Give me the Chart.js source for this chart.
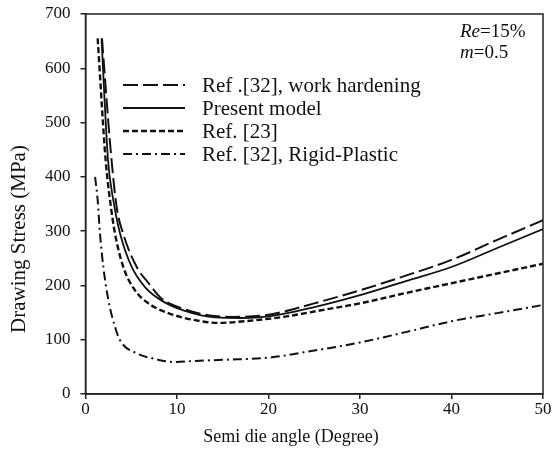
<!DOCTYPE html>
<html>
<head>
<meta charset="utf-8">
<script src="https://cdn.jsdelivr.net/npm/chart.js@4.4.1/dist/chart.umd.min.js"></script>
<style>
  html, body { margin: 0; padding: 0; background: #fff; }
  #wrap { width: 556px; height: 457px; position: relative; }
</style>
</head>
<body>
<div id="wrap"><canvas id="c"></canvas></div>
<script>
// Semi die angle (degree) and drawing stress (MPa) for each curve
const hardX   = [1.8, 2.75, 3.4, 4.1, 5.6, 6.9, 8.3, 10.5, 13.4, 16, 20, 25, 30, 35, 40, 45, 50];
const hardY   = [655, 449, 345, 296, 234, 204, 176, 158, 145, 142, 146, 167, 191, 218, 247, 284, 320];

const modelX  = [1.75, 2.46, 3.04, 3.77, 5.05, 6.5, 8.33, 10.87, 14.15, 17, 20, 25, 30, 35, 40, 45, 50];
const modelY  = [655, 431, 357, 296, 234, 197, 172, 153, 141, 140, 143, 160, 182, 208, 234, 269, 304];

const ref23X  = [1.33, 2.2, 2.68, 3.22, 4.13, 5.41, 6.87, 9.05, 11.97, 14.5, 18, 22, 26, 30, 35, 40, 45, 50];
const ref23Y  = [655, 431, 357, 296, 234, 191, 167, 149, 136, 131, 135, 143, 155, 167, 186, 204, 222, 240];

const rigidX  = [1.05, 1.33, 1.58, 1.95, 2.5, 3.22, 3.77, 5.6, 7.5, 9.6, 12, 15, 20, 25, 30, 35, 40, 45, 50];
const rigidY  = [400, 357, 296, 234, 173, 124, 99, 75, 65, 59, 61, 63, 67, 80, 95, 114, 134, 149, 164];

const seriesNames = [
  'Ref .[32], work hardening',
  'Present model',
  'Ref. [23]',
  'Ref. [32], Rigid-Plastic'
];

const xTicks = [0, 10, 20, 30, 40, 50];
const yTicks = [0, 100, 200, 300, 400, 500, 600, 700];
const xTitle = 'Semi die angle (Degree)';
const yTitle = 'Drawing Stress (MPa)';

const FONT = "'Liberation Serif', 'Times New Roman', serif";
const INK = '#111';

const pts = (xs, ys) => xs.map((x, i) => ({ x, y: ys[i] }));

function line(label, xs, ys, width, dash) {
  return {
    label,
    data: pts(xs, ys),
    showLine: true,
    borderColor: INK,
    backgroundColor: INK,
    borderWidth: width,
    borderDash: dash,
    pointRadius: 0,
    pointHoverRadius: 0,
    cubicInterpolationMode: 'monotone',
    fill: false
  };
}

// Frame, axis titles, custom line-style legend and parameter note
const decorations = {
  id: 'decorations',
  afterDraw(chart) {
    const { ctx, chartArea: a } = chart;
    ctx.save();
    ctx.strokeStyle = '#222';
    ctx.lineWidth = 1.5;
    ctx.strokeRect(a.left, a.top, a.right - a.left, a.bottom - a.top);

    ctx.fillStyle = INK;
    // axis titles
    ctx.textAlign = 'center';
    ctx.textBaseline = 'middle';
    ctx.font = `18px ${FONT}`;
    ctx.fillText(xTitle, 291, 437);
    ctx.save();
    ctx.translate(19, 239);
    ctx.rotate(-Math.PI / 2);
    ctx.font = `21px ${FONT}`;
    ctx.fillText(yTitle, 0, 0);
    ctx.restore();

    // legend
    ctx.textAlign = 'left';
    const rows = [85, 108, 131, 154];
    ctx.font = `21px ${FONT}`;
    chart.data.datasets.forEach((ds, i) => {
      const y = rows[i];
      ctx.beginPath();
      ctx.strokeStyle = ds.borderColor;
      ctx.lineWidth = ds.borderWidth;
      ctx.setLineDash(ds.borderDash || []);
      ctx.moveTo(123, y);
      ctx.lineTo(185, y);
      ctx.stroke();
      ctx.setLineDash([]);
      ctx.fillText(ds.label, 202, y + 1);
    });

    // parameters
    const drawMixed = (parts, x, y) => {
      let cx = x;
      parts.forEach(([t, italic]) => {
        ctx.font = `${italic ? 'italic ' : ''}19px ${FONT}`;
        ctx.fillText(t, cx, y);
        cx += ctx.measureText(t).width;
      });
    };
    drawMixed([['Re', true], ['=15%', false]], 460, 32);
    drawMixed([['m', true], ['=0.5', false]], 460, 53);
    ctx.restore();
  }
};

new Chart(document.getElementById('c'), {
  type: 'scatter',
  data: {
    datasets: [
      line(seriesNames[0], hardX, hardY, 2, [15, 5]),
      line(seriesNames[1], modelX, modelY, 1.8, []),
      line(seriesNames[2], ref23X, ref23Y, 2.4, [6, 3]),
      line(seriesNames[3], rigidX, rigidY, 2, [9, 4, 2, 4])
    ]
  },
  options: {
    responsive: true,
    maintainAspectRatio: false,
    animation: false,
    events: [],
    layout: { padding: { left: 0, right: 13, top: 14, bottom: 0 } },
    plugins: {
      legend: { display: false },
      tooltip: { enabled: false }
    },
    scales: {
      x: {
        type: 'linear',
        min: 0,
        max: 50,
        afterBuildTicks: s => { s.ticks = xTicks.map(v => ({ value: v })); },
        afterFit: s => { s.height = 63; s.paddingLeft = 0; s.paddingRight = 0; },
        ticks: { color: INK, font: { family: FONT, size: 17 }, padding: 0 },
        grid: { display: true, drawOnChartArea: false, drawTicks: true, tickLength: 5, color: '#222', lineWidth: 1.5 },
        border: { display: true, color: '#222', width: 1.5 },
        title: { display: false }
      },
      y: {
        type: 'linear',
        min: 0,
        max: 700,
        afterBuildTicks: s => { s.ticks = yTicks.map(v => ({ value: v })); },
        afterFit: s => { s.width = 85.5; s.paddingTop = 0; s.paddingBottom = 0; },
        ticks: { color: INK, font: { family: FONT, size: 17 }, padding: 10 },
        grid: { display: true, drawOnChartArea: false, drawTicks: true, tickLength: 5, color: '#222', lineWidth: 1.5 },
        border: { display: true, color: '#222', width: 1.5 },
        title: { display: false }
      }
    }
  },
  plugins: [decorations]
});
</script>
</body>
</html>
